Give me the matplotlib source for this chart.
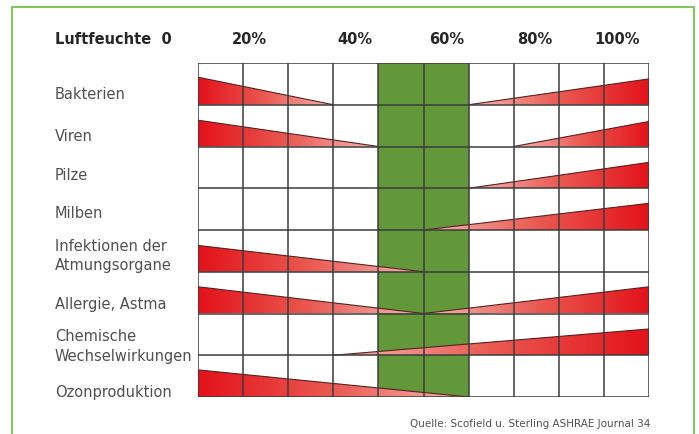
import matplotlib.pyplot as plt
import numpy as np
from matplotlib.patches import Polygon, Rectangle
from matplotlib.colors import LinearSegmentedColormap
import matplotlib.transforms as mtransforms

# Risikofaktoren je nach relativer Luftfeuchte (in %)
rows = ['Bakterien', 'Viren', 'Pilze', 'Milben',
        'Infektionen der\nAtmungsorgane', 'Allergie, Astma',
        'Chemische\nWechselwirkungen', 'Ozonproduktion']
# wo das Risiko bei niedriger Feuchte ausläuft (None = kein Risiko)
low_end = [30, 40, None, None, 50, 50, None, 60]
# wo das Risiko bei hoher Feuchte beginnt
high_start = [60, 70, 60, 50, None, 50, 30, None]
# Höhe des Dreiecks am Rand (Anteil einer Zeile)
low_height = [0.66, 0.63, 0, 0, 0.63, 0.64, 0, 0.65]
high_height = [0.62, 0.60, 0.62, 0.64, 0, 0.64, 0.63, 0]
optimum = (40, 60)

top_labels = ['20%', '40%', '60%', '80%', '100%']
top_label_x = [11.5, 34.8, 55.2, 74.7, 92.9]
label_offset = [0.24, 0.23, 0.17, 0.07, 0.1, 0.26, 0.26, 0.36]

W, H = 699, 435
fig = plt.figure(figsize=(W / 100, H / 100), dpi=100)
ax = fig.add_axes([198 / W, 1 - 398 / H, 451 / W, 334 / H])
ax.set_xlim(0, 100)
ax.set_ylim(len(rows), 0)
ax.set_axis_off()

cmap = LinearSegmentedColormap.from_list('risk', ['#e3121a', '#ea5a52', '#f5b8b4'])
grad = np.linspace(0, 1, 256).reshape(1, -1)

ax.axvspan(optimum[0], optimum[1], color='#62983a', zorder=1, lw=0)

for i in range(len(rows)):
    base = i + 1
    if low_end[i] is not None:
        h = low_height[i]
        pts = [(0, base), (0, base - h), (low_end[i], base)]
        poly = Polygon(pts, closed=True, fc='none', ec='none', transform=ax.transData)
        ax.add_patch(poly)
        im = ax.imshow(grad, cmap=cmap, aspect='auto', extent=[0, low_end[i], base, base - h],
                       zorder=2, interpolation='bilinear')
        im.set_clip_path(poly)
        ax.plot([0, low_end[i]], [base - h, base], color='#5a2020', lw=0.8, zorder=3)
    if high_start[i] is not None:
        h = high_height[i]
        pts = [(100, base), (100, base - h), (high_start[i], base)]
        poly = Polygon(pts, closed=True, fc='none', ec='none', transform=ax.transData)
        ax.add_patch(poly)
        im = ax.imshow(grad[:, ::-1], cmap=cmap, aspect='auto',
                       extent=[high_start[i], 100, base, base - h],
                       zorder=2, interpolation='bilinear')
        im.set_clip_path(poly)
        ax.plot([high_start[i], 100], [base, base - h], color='#5a2020', lw=0.8, zorder=3)

ax.set_xlim(0, 100)
ax.set_ylim(len(rows), 0)

for x in range(0, 101, 10):
    ax.axvline(x, color='#3c3c3c', lw=1.1, zorder=4)
for y in range(len(rows) + 1):
    ax.axhline(y, color='#3c3c3c', lw=1.1, zorder=4)

# Kopfzeile
for lab, x in zip(top_labels, top_label_x):
    ax.text(x, -0.58, lab, ha='center', va='center', fontsize=10.5,
            fontweight='bold', color='#262626')
trans = mtransforms.blended_transform_factory(fig.transFigure, ax.transData)
ax.text(55 / W, -0.58, 'Luftfeuchte  0', transform=trans, ha='left', va='center',
        fontsize=10.5, fontweight='bold', color='#262626')

for i, name in enumerate(rows):
    ax.text(55 / W, i + 0.5 + label_offset[i], name, transform=trans, ha='left',
            va='center', fontsize=10.5, color='#505050', linespacing=1.4)

fig.text(650 / W, 1 - 424 / H, 'Quelle: Scofield u. Sterling ASHRAE Journal 34',
         ha='right', va='center', fontsize=7.5, color='#505050')

fig.patches.append(Rectangle((12 / W, -0.05), 682 / W, 1 - 8 / H + 0.05,
                             transform=fig.transFigure, fill=False,
                             ec='#80c95a', lw=1.5))

plt.savefig('out.png', dpi=100)
